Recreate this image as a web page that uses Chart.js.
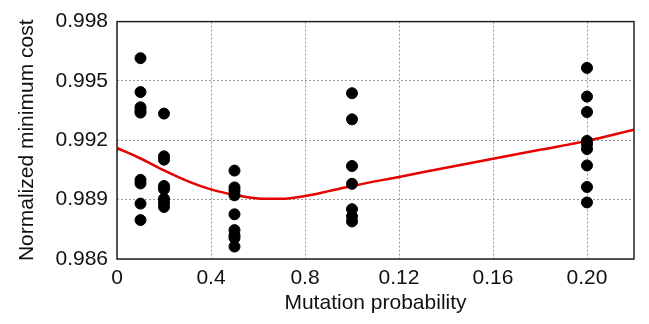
<!DOCTYPE html>
<html>
<head>
<meta charset="utf-8">
<script src="https://cdn.jsdelivr.net/npm/chart.js@4"></script>
<style>
  html, body { margin: 0; padding: 0; background: #fff; }
  #wrap { width: 649px; height: 324px; }
</style>
</head>
<body>
<div id="wrap"><canvas id="chart" width="649" height="324"></canvas></div>
<script>
// mutation probabilities that were tried
const mutationRates = [0.01, 0.02, 0.05, 0.10, 0.20];

// normalized minimum cost of each run, one list per mutation rate
const costsAt001 = [0.99615, 0.99444, 0.99367, 0.99351, 0.99340, 0.99000, 0.98982, 0.98880, 0.98797];
const costsAt002 = [0.99335, 0.99119, 0.99102, 0.98969, 0.98953, 0.98904, 0.98884, 0.98863];
const costsAt005 = [0.99047, 0.98962, 0.98945, 0.98922, 0.98826, 0.98746, 0.98720, 0.98706, 0.98663];
const costsAt010 = [0.99438, 0.99306, 0.99070, 0.98980, 0.98852, 0.98815, 0.98790];
const costsAt020 = [0.99566, 0.99421, 0.99343, 0.99197, 0.99180, 0.99156, 0.99073, 0.98964, 0.98886];

// fitted trend line
const fitX = [0, 0.01, 0.02, 0.03, 0.04, 0.05, 0.06, 0.07, 0.08, 0.09, 0.10, 0.12, 0.14, 0.16, 0.18, 0.20, 0.22];
const fitY = [0.99161, 0.99108, 0.99048, 0.98994, 0.98952, 0.98924, 0.98906, 0.98904, 0.98918, 0.98943,
              0.98969, 0.99015, 0.99061, 0.99107, 0.99152, 0.99197, 0.99254];

// axis ticks
const xTickValues = [0, 0.04, 0.08, 0.12, 0.16, 0.20];
const xTickLabels = ['0', '0.4', '0.8', '0.12', '0.16', '0.20'];
const yTickValues = [0.986, 0.989, 0.992, 0.995, 0.998];
const yTickLabels = ['0.986', '0.989', '0.992', '0.995', '0.998'];

const costLists = [costsAt001, costsAt002, costsAt005, costsAt010, costsAt020];
const runPoints = [];
costLists.forEach((list, i) => {
  list.forEach(c => runPoints.push({ x: mutationRates[i], y: c }));
});
const fitPoints = fitX.map((x, i) => ({ x: x, y: fitY[i] }));

const FONT = { family: '"Liberation Sans", Arial, sans-serif', size: 21 };

// box around the plot area
const frame = {
  id: 'frame',
  afterDraw(chart) {
    const a = chart.chartArea;
    const ctx = chart.ctx;
    ctx.save();
    ctx.strokeStyle = '#222';
    ctx.lineWidth = 1.5;
    ctx.strokeRect(a.left, a.top, a.right - a.left, a.bottom - a.top);
    ctx.restore();
  }
};

new Chart(document.getElementById('chart').getContext('2d'), {
  type: 'scatter',
  data: {
    datasets: [
      {
        label: 'fit',
        type: 'line',
        data: fitPoints,
        borderColor: '#e60000',
        borderWidth: 2.5,
        pointRadius: 0,
        cubicInterpolationMode: 'monotone',
        fill: false,
        order: 2
      },
      {
        label: 'runs',
        data: runPoints,
        backgroundColor: '#000',
        borderColor: '#000',
        pointRadius: 5.5,
        order: 1
      }
    ]
  },
  options: {
    responsive: false,
    animation: false,
    events: [],
    layout: { padding: { left: 15, right: 15, top: 13, bottom: 8 } },
    plugins: { legend: { display: false }, tooltip: { enabled: false } },
    scales: {
      x: {
        type: 'linear',
        min: 0,
        max: 0.22,
        afterBuildTicks: s => { s.ticks = xTickValues.map(v => ({ value: v })); },
        afterFit: s => { s.height = 324 - 259 - 8; },
        ticks: {
          font: FONT,
          color: '#111',
          padding: 7,
          maxRotation: 0,
          autoSkip: false,
          callback: v => xTickLabels[xTickValues.findIndex(t => Math.abs(t - v) < 1e-9)]
        },
        grid: { color: '#999', drawTicks: false, lineWidth: 1 },
        border: { display: false, dash: [2, 2] },
        title: { display: true, text: 'Mutation probability', font: FONT, color: '#111', padding: { top: 0, bottom: 0 } }
      },
      y: {
        type: 'linear',
        min: 0.986,
        max: 0.998,
        afterBuildTicks: s => { s.ticks = yTickValues.map(v => ({ value: v })); },
        afterFit: s => { s.width = 117 - 15; },
        ticks: {
          font: FONT,
          color: '#111',
          padding: 9,
          autoSkip: false,
          callback: v => yTickLabels[yTickValues.findIndex(t => Math.abs(t - v) < 1e-9)]
        },
        grid: { color: '#999', drawTicks: false, lineWidth: 1 },
        border: { display: false, dash: [2, 2] },
        title: { display: true, text: 'Normalized minimum cost', font: FONT, color: '#111', padding: { top: 0, bottom: 0 } }
      }
    }
  },
  plugins: [frame]
});
</script>
</body>
</html>
